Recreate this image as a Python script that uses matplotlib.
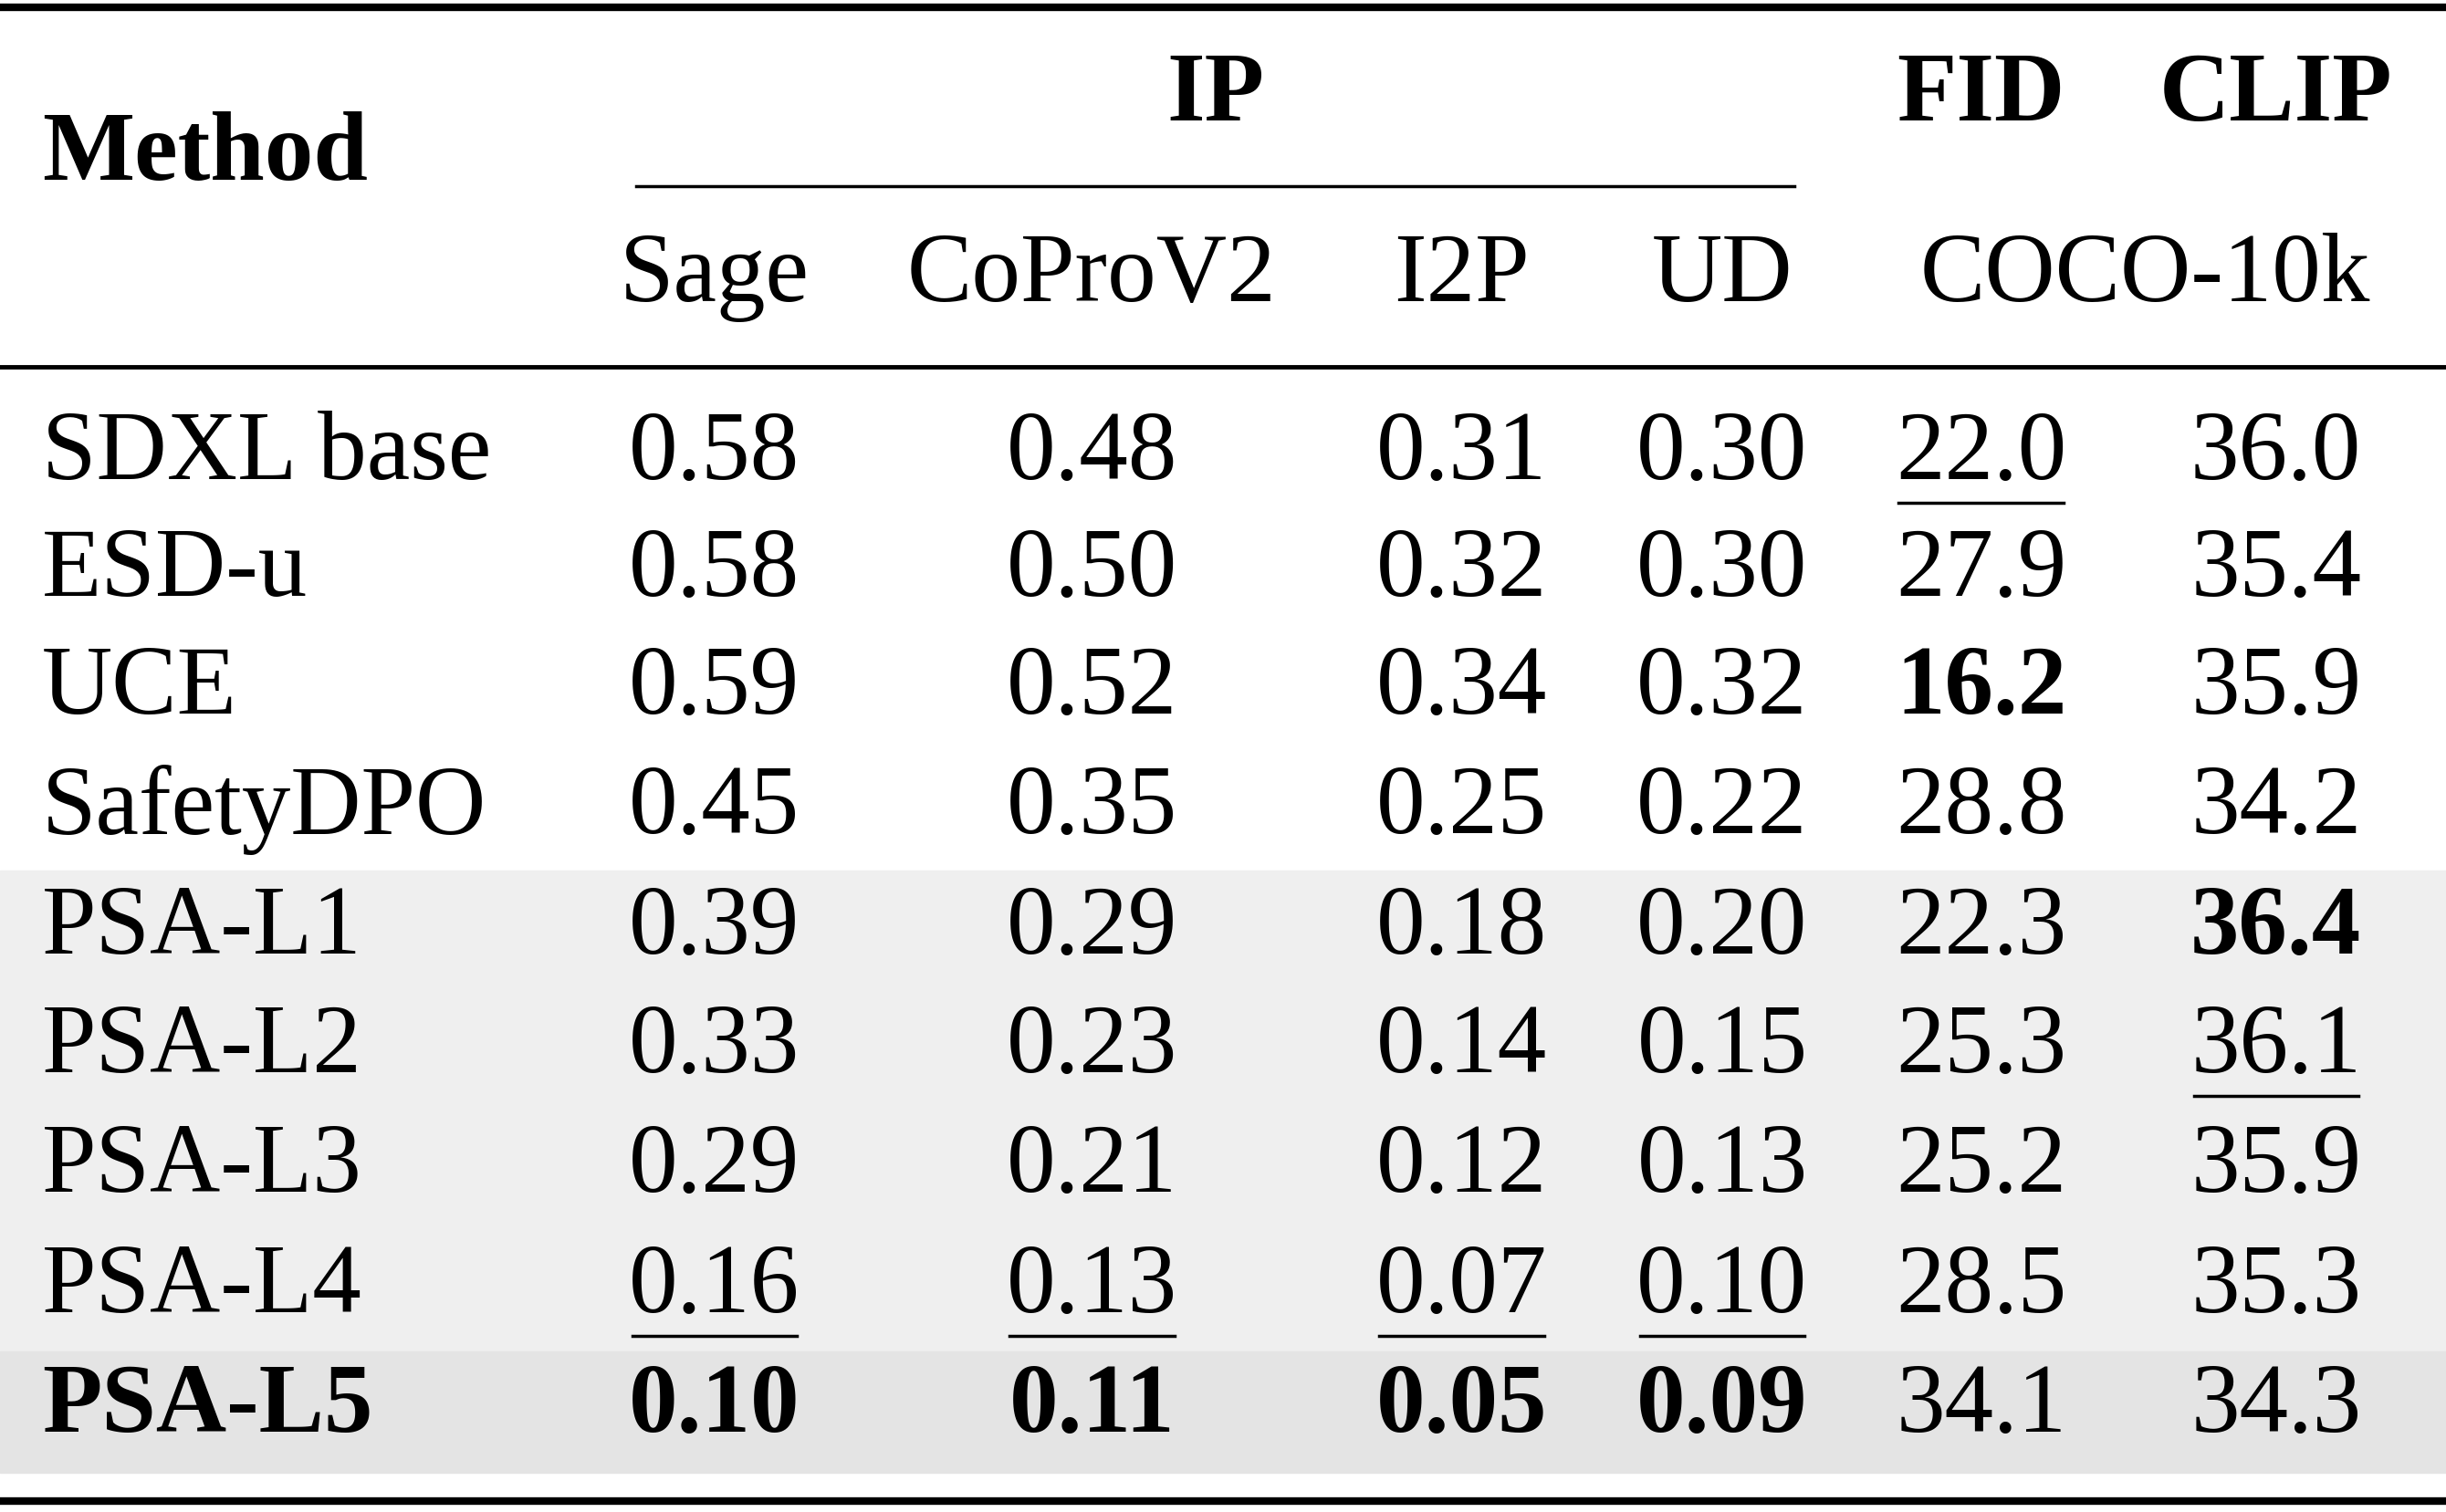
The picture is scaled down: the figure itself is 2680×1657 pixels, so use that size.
import matplotlib
matplotlib.use("Agg")
import matplotlib.pyplot as plt

methods = ["SDXL base","ESD-u","UCE","SafetyDPO","PSA-L1","PSA-L2","PSA-L3","PSA-L4","PSA-L5"]
sage   = ["0.58","0.58","0.59","0.45","0.39","0.33","0.29","0.16","0.10"]
coprov = ["0.48","0.50","0.52","0.35","0.29","0.23","0.21","0.13","0.11"]
i2p    = ["0.31","0.32","0.34","0.25","0.18","0.14","0.12","0.07","0.05"]
ud     = ["0.30","0.30","0.32","0.22","0.20","0.15","0.13","0.10","0.09"]
fid    = ["22.0","27.9","16.2","28.8","22.3","25.3","25.2","28.5","34.1"]
clip   = ["36.0","35.4","35.9","34.2","36.4","36.1","35.9","35.3","34.3"]
bold = {(8,0),(8,1),(8,2),(8,3),(8,4),(2,5),(4,6)}
under = {(0,5),(5,6),(7,1),(7,2),(7,3),(7,4)}

fig = plt.figure(figsize=(26.8,16.58), dpi=100)
ax = fig.add_axes([0,0,1,1])
ax.set_xlim(0,1568); ax.set_ylim(970,0); ax.axis("off")
FS = 77
font = "Liberation Serif"

rowy = [292,367,442,519,596,672,749,826,903]
colx = [27,458,700,937,1104,1270,1459]
ax.axhspan(559,867,color="#efefef",zorder=0)
ax.axhspan(867,945,color="#e4e4e4",zorder=0)
ax.plot([0,1568],[5,5],color="black",lw=6)
ax.plot([0,1568],[236,236],color="black",lw=3.5)
ax.plot([0,1568],[963,963],color="black",lw=6)
ax.plot([408,1150],[120,120],color="black",lw=2.5)

def t(x,y,s,ha="center",b=False):
    return ax.text(x,y,s,ha=ha,va="center",fontsize=FS,family=font,fontweight="bold" if b else "normal")

t(27,100,"Method",ha="left",b=True)
t(779,62,"IP",b=True); t(1270,62,"FID",b=True); t(1459,62,"CLIP",b=True)
for x,s in zip([458,700,937,1104],["Sage","CoProV2","I2P","UD"]):
    t(x,178,s)
t(1375,178,"COCO-10k")

texts=[]
cols=[methods,sage,coprov,i2p,ud,fid,clip]
for r in range(len(methods)):
    for c in range(7):
        b = (r,c) in bold
        tt = t(colx[c], rowy[r], cols[c][r], ha="left" if c==0 else "center", b=b)
        if (r,c) in under: texts.append((tt,rowy[r]))
fig.canvas.draw()
inv = ax.transData.inverted()
for tt,y in texts:
    bb = tt.get_window_extent()
    x0,_ = inv.transform((bb.x0,bb.y0)); x1,_ = inv.transform((bb.x1,bb.y0))
    ax.plot([x0+2,x1-2],[y+31,y+31],color="black",lw=2.5)
fig.savefig("out.png",dpi=100)
